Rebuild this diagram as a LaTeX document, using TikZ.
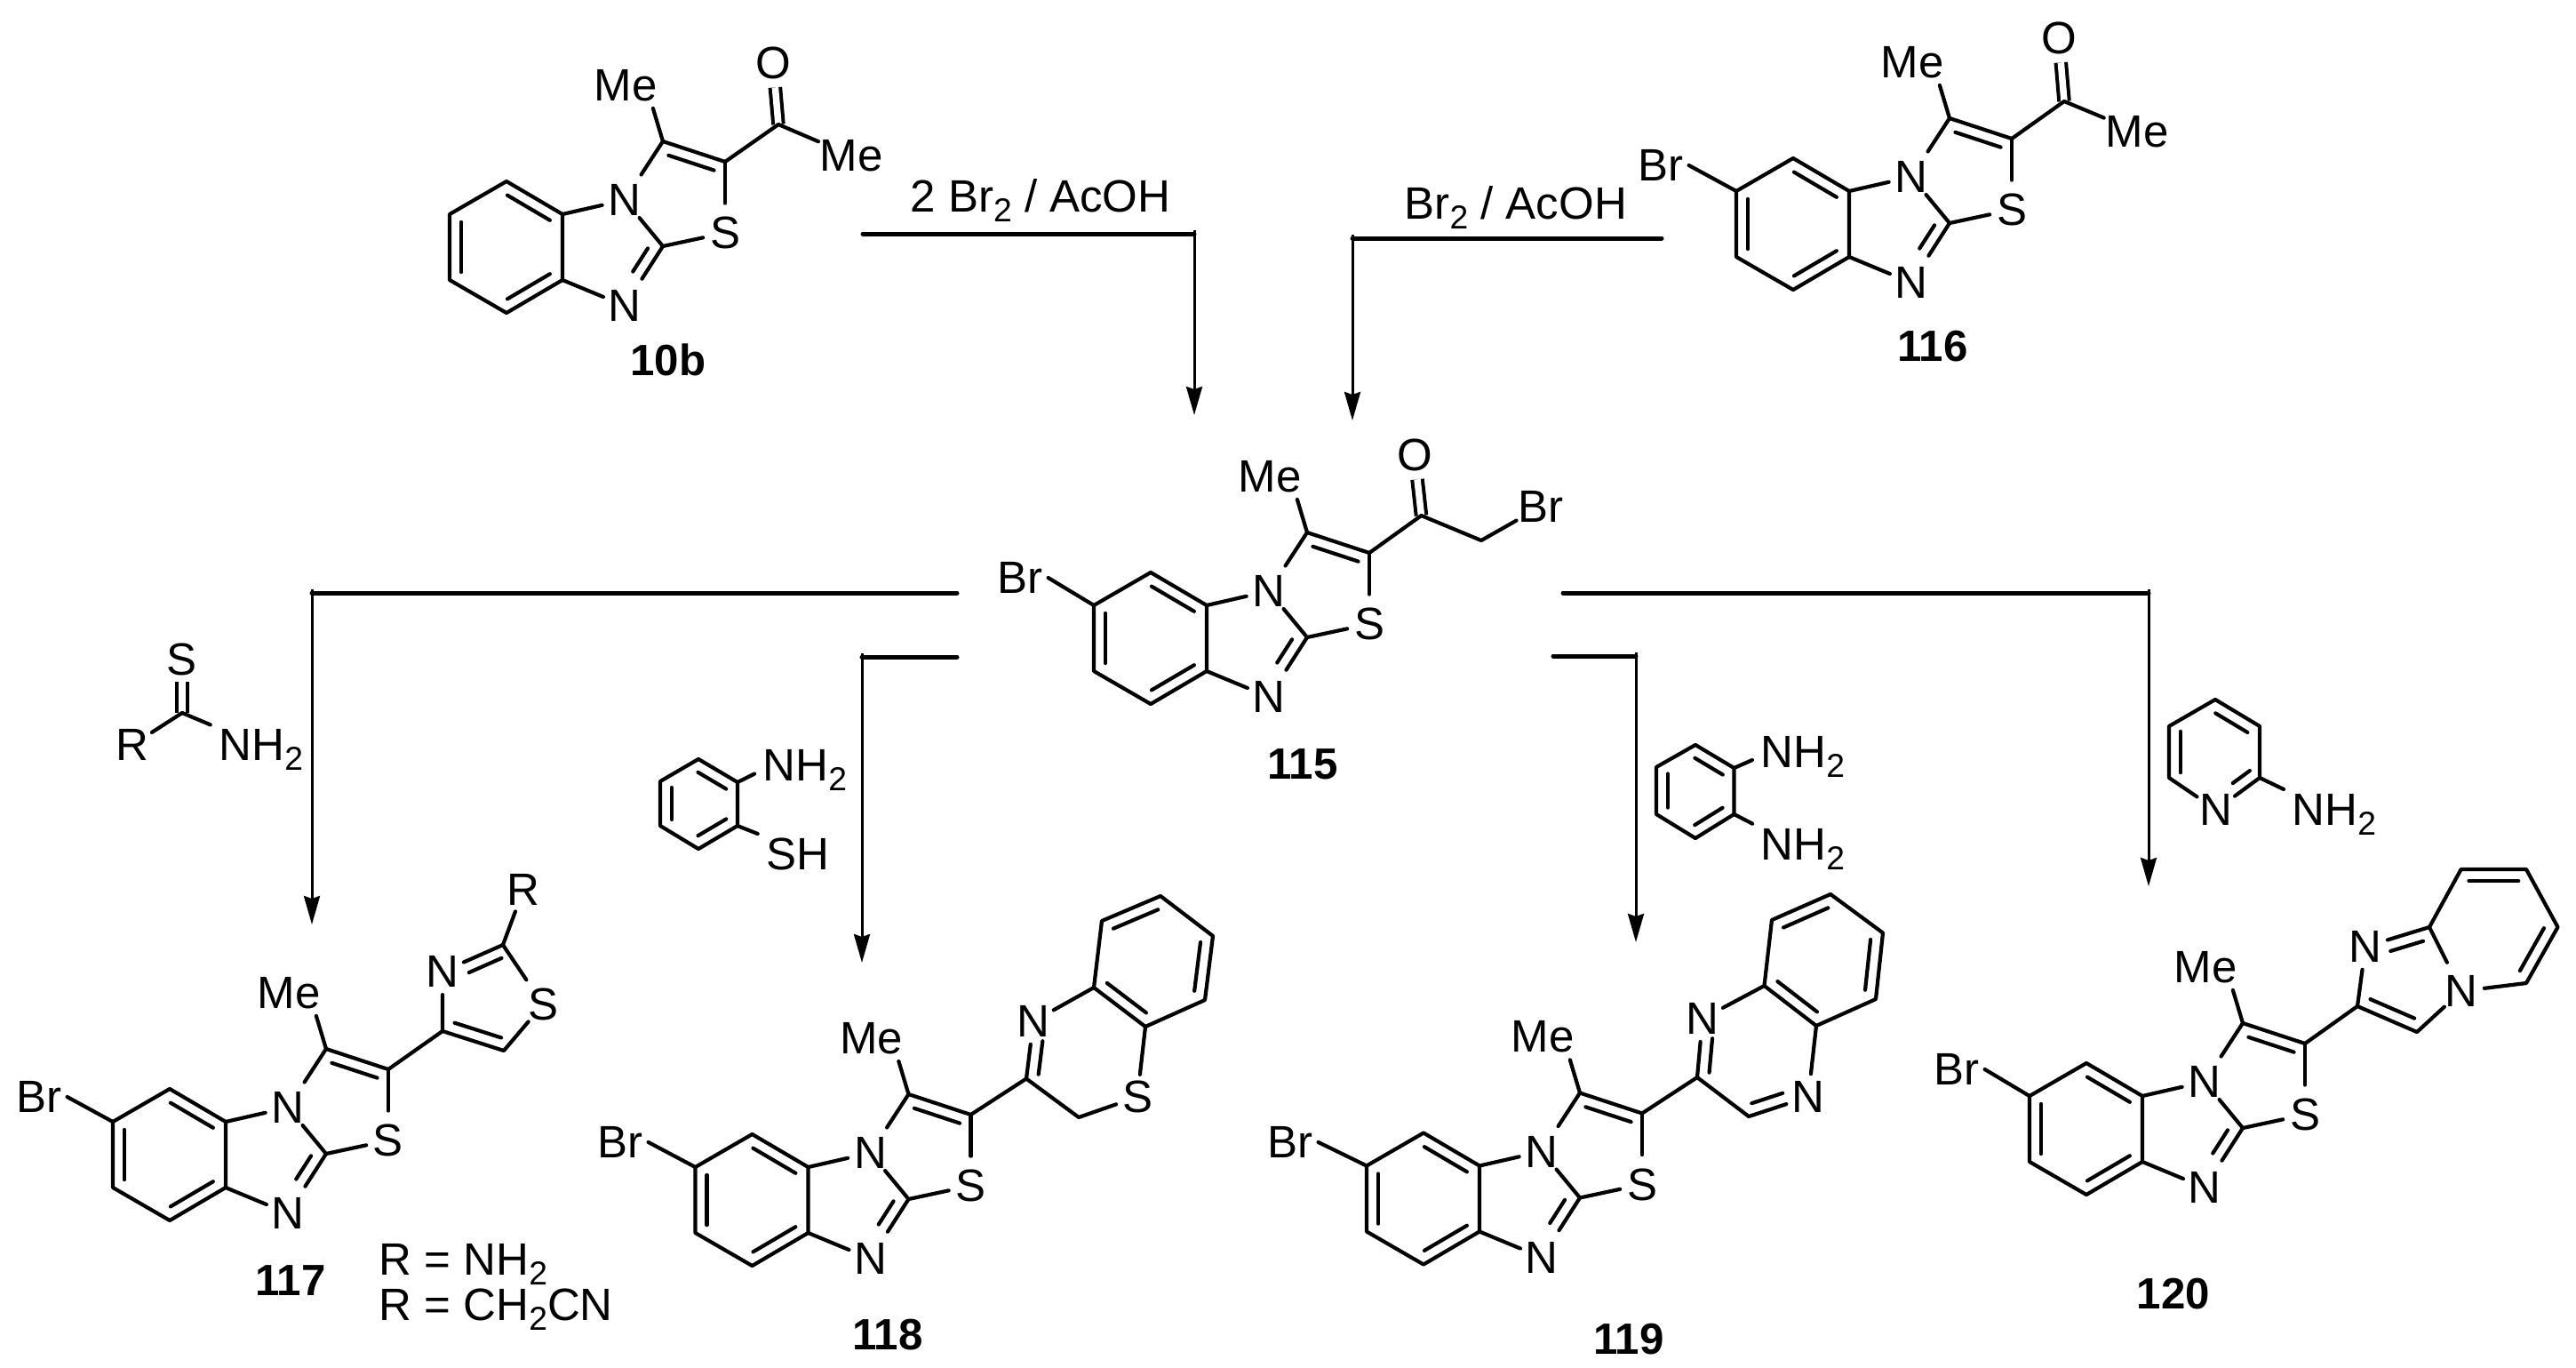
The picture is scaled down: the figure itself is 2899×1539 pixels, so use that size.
\documentclass[tikz,border=0pt]{standalone}
\usepackage{fontspec}
\setmainfont{Liberation Sans}
\usetikzlibrary{calc,arrows.meta}
\def\dbo{0.13cm}
\newcommand{\lowtwo}{\raisebox{-0.22em}{\fontsize{10.6}{12}\selectfont 2}}
\tikzset{
  bond/.style={draw=black, line width=0.42mm, line cap=round, line join=round},
  twobond/.style={draw=black, line width=0.4mm, double, double distance=0.75mm},
  lead/.style={draw=black, line width=0.5mm, line cap=round},
  drop/.style={draw=black, line width=0.3mm, shorten <=-0.4mm, -{Stealth[length=3.2mm,width=1.8mm,inset=0.3mm]}},
  atom/.style={circle, inner sep=0pt, font=\fontsize{14.5}{16}\selectfont},
  txt/.style={inner sep=0pt, anchor=base west, font=\fontsize{14.5}{16}\selectfont},
  cpd/.style={inner sep=0pt, font=\fontsize{14}{16}\selectfont\bfseries},
}
% inner line of a double bond, on the left of #1 -> #2
\newcommand{\inbond}[4]{\draw[bond] ($(#1)!#3!(#2)!\dbo!90:(#2)$) -- ($(#1)!#4!(#2)!\dbo!90:(#2)$);}
% the ring system every compound shares, placed by its upper fusion carbon
\newcommand{\bimcore}[3]{%
  \begin{scope}[shift={(#2,#3)},name prefix=#1-]
    \coordinate (ur) at (0,0);
    \coordinate (lr) at (0,74);
    \coordinate (bo) at (-63,111);
    \coordinate (ll) at (-127,74);
    \coordinate (ul) at (-127,0);
    \coordinate (to) at (-63,-37);
    \coordinate (C2) at (113,36);
    \coordinate (C3) at (113,-82);
    \coordinate (C4) at (183,-59);
    \node[atom] (N1) at (70,-16) {N};
    \node[atom] (N2) at (70,103) {N};
    \node[atom] (S) at (183,21) {S};
    \node[atom] (Me) at (71,-145) {Me};
    \draw[bond] (ur) -- (to) -- (ul) -- (ll) -- (bo) -- (lr) -- cycle;
    \inbond{ur}{to}{0.12}{0.88}
    \inbond{ul}{ll}{0.12}{0.88}
    \inbond{bo}{lr}{0.12}{0.88}
    \draw[bond] (ur) -- (N1);
    \draw[bond] (lr) -- (N2);
    \draw[bond] (N1) -- (C2) -- (S);
    \draw[bond,shorten >=1mm] (C2) -- (N2);
    \inbond{N2}{C2}{0.47}{0.86}
    \draw[bond,shorten >=0.8mm] (C3) -- (N1);
    \draw[bond] (C3) -- (C4);
    \inbond{C4}{C3}{0.12}{0.85}
    \draw[bond,shorten >=0.8mm] (C4) -- (S);
    \draw[bond] (C3) -- (Me.-40);
  \end{scope}}
\begin{document}
\begin{tikzpicture}[x=0.01cm,y=-0.01cm]
  \useasboundingbox (0,0) rectangle (2899,1539);

  % 10b
  \bimcore{m10}{633}{241}
  \coordinate (m10-CO) at (876,140);
  \node[atom] (m10-O) at (870,71) {O};
  \node[atom] (m10-Me2) at (958,175) {Me};
  \draw[twobond] (m10-CO) -- (m10-O);
  \draw[bond] (m10-C4) -- (m10-CO) -- (m10-Me2);
  \node[cpd] (m10-lab) at (752,405) {10b};

  % 116
  \bimcore{m116}{2081}{215}
  \node[atom] (m116-Br) at (1869,186) {Br};
  \draw[bond] (m116-ul) -- (m116-Br.east);
  \coordinate (m116-CO) at (2323,114);
  \node[atom] (m116-O) at (2317,43) {O};
  \node[atom] (m116-Me2) at (2405,148) {Me};
  \draw[twobond] (m116-CO) -- (m116-O);
  \draw[bond] (m116-C4) -- (m116-CO) -- (m116-Me2);
  \node[cpd] (m116-lab) at (2175,390) {116};

  % 115
  \bimcore{m115}{1358}{681}
  \node[atom] (m115-Br) at (1148,650) {Br};
  \draw[bond] (m115-ul) -- (m115-Br.east);
  \coordinate (m115-CO) at (1599.5,580);
  \coordinate (m115-CH) at (1667,608);
  \node[atom] (m115-O) at (1592,512) {O};
  \node[atom] (m115-Brb) at (1734,570) {Br};
  \draw[twobond] (m115-CO) -- (m115-O);
  \draw[bond] (m115-C4) -- (m115-CO) -- (m115-CH) -- (m115-Brb);
  \node[cpd] (m115-lab) at (1466,860) {115};

  % 117
  \bimcore{m117}{254}{1262}
  \node[atom] (m117-Br) at (44,1234) {Br};
  \draw[bond] (m117-ul) -- (m117-Br.east);
  \coordinate (m117-a4) at (498,1160);
  \coordinate (m117-a5) at (567,1182);
  \coordinate (m117-a2) at (566,1063);
  \node[atom] (m117-Sp) at (611,1130) {S};
  \node[atom] (m117-Np) at (498,1093) {N};
  \node[atom] (m117-R) at (589,1001) {R};
  \draw[bond] (m117-C4) -- (m117-a4) -- (m117-a5) -- (m117-Sp);
  \draw[bond] (m117-a4) -- (m117-Np) -- (m117-a2);
  \draw[bond,shorten >=0.8mm] (m117-a2) -- (m117-Sp);
  \draw[bond] (m117-a2) -- (m117-R);
  \inbond{m117-a4}{m117-a5}{0.14}{0.9}
  \inbond{m117-a2}{m117-Np}{0.1}{0.64}
  \node[cpd] (m117-lab) at (327,1441) {117};
  \node[txt] (m117-ra) at (426,1434) {R = NH\lowtwo};
  \node[txt] (m117-rb) at (426,1485) {R = CH\lowtwo CN};

  % 118
  \bimcore{m118}{909.5}{1313}
  \node[atom] (m118-Br) at (698,1285) {Br};
  \draw[bond] (m118-ul) -- (m118-Br.east);
  \coordinate (m118-cp) at (1155,1213.5);
  \coordinate (m118-ch) at (1214,1257);
  \coordinate (m118-c8) at (1289,1155);
  \coordinate (m118-c4) at (1231,1111);
  \coordinate (m118-b1) at (1240,1036);
  \coordinate (m118-b2) at (1306,1008);
  \coordinate (m118-b3) at (1365,1053);
  \coordinate (m118-b4) at (1356,1125);
  \node[atom] (m118-Np) at (1163,1149) {N};
  \node[atom] (m118-Sp) at (1280,1234) {S};
  \draw[bond] (m118-C4) -- (m118-cp) -- (m118-ch) -- (m118-Sp) -- (m118-c8);
  \draw[bond] (m118-cp) -- (m118-Np) -- (m118-c4);
  \draw[bond] (m118-c4) -- (m118-b1) -- (m118-b2) -- (m118-b3) -- (m118-b4) -- (m118-c8) -- cycle;
  \inbond{m118-Np}{m118-cp}{0.32}{0.9}
  \inbond{m118-c4}{m118-c8}{0.12}{0.88}
  \inbond{m118-b2}{m118-b1}{0.12}{0.88}
  \inbond{m118-b4}{m118-b3}{0.12}{0.88}
  \node[cpd] (m118-lab) at (999,1502) {118};

  % 119
  \bimcore{m119}{1665}{1311.5}
  \node[atom] (m119-Br) at (1452,1285) {Br};
  \draw[bond] (m119-ul) -- (m119-Br.east);
  \coordinate (m119-cp) at (1910,1212);
  \coordinate (m119-c3) at (1968,1256);
  \coordinate (m119-c8) at (2044,1154);
  \coordinate (m119-c4) at (1985.5,1109);
  \coordinate (m119-b1) at (1994,1035);
  \coordinate (m119-b2) at (2060,1006);
  \coordinate (m119-b3) at (2119,1049.5);
  \coordinate (m119-b4) at (2111,1124);
  \node[atom] (m119-Np) at (1916,1146) {N};
  \node[atom] (m119-Nq) at (2035,1234) {N};
  \draw[bond] (m119-C4) -- (m119-cp) -- (m119-c3) -- (m119-Nq) -- (m119-c8);
  \draw[bond] (m119-cp) -- (m119-Np) -- (m119-c4);
  \draw[bond] (m119-c4) -- (m119-b1) -- (m119-b2) -- (m119-b3) -- (m119-b4) -- (m119-c8) -- cycle;
  \inbond{m119-Np}{m119-cp}{0.32}{0.9}
  \inbond{m119-c3}{m119-Nq}{0.11}{0.63}
  \inbond{m119-c4}{m119-c8}{0.12}{0.88}
  \inbond{m119-b2}{m119-b1}{0.12}{0.88}
  \inbond{m119-b4}{m119-b3}{0.12}{0.88}
  \node[cpd] (m119-lab) at (1833,1507) {119};

  % 120
  \bimcore{m120}{2411}{1233}
  \node[atom] (m120-Br) at (2202,1203) {Br};
  \draw[bond] (m120-ul) -- (m120-Br.east);
  \coordinate (m120-cp) at (2653,1132);
  \coordinate (m120-c3) at (2720,1161);
  \coordinate (m120-c8) at (2734,1043);
  \coordinate (m120-p1) at (2769.6,978);
  \coordinate (m120-p2) at (2843,978);
  \coordinate (m120-p3) at (2878.5,1043);
  \coordinate (m120-p4) at (2843,1106);
  \node[atom] (m120-Np) at (2662,1065) {N};
  \node[atom] (m120-Nq) at (2770,1115) {N};
  \draw[bond] (m120-C4) -- (m120-cp) -- (m120-c3) -- (m120-Nq) -- (m120-p4) -- (m120-p3) -- (m120-p2) -- (m120-p1) -- (m120-c8) -- (m120-Np) -- (m120-cp);
  \draw[bond,shorten >=1mm] (m120-c8) -- (m120-Nq);
  \inbond{m120-cp}{m120-c3}{0.14}{0.88}
  \inbond{m120-c8}{m120-Np}{0.15}{0.66}
  \inbond{m120-p2}{m120-p1}{0.12}{0.88}
  \inbond{m120-p4}{m120-p3}{0.12}{0.88}
  \node[cpd] (m120-lab) at (2446,1456) {120};

  % reagents over the arrows
  \coordinate (th-C) at (205,802);
  \node[atom] (th-S) at (205,742) {S};
  \node[atom] (th-R) at (149,838) {R};
  \node[txt] (th-N) at (246,855) {NH\lowtwo};
  \draw[twobond] (th-C) -- (th-S);
  \draw[bond] (th-C) -- (th-R);
  \draw[bond,shorten >=1mm] (th-C) -- (th-N.north west);

  \coordinate (at-1) at (786,854);
  \coordinate (at-2) at (830,880);
  \coordinate (at-3) at (830,929);
  \coordinate (at-4) at (786,955);
  \coordinate (at-5) at (743,929);
  \coordinate (at-6) at (743,879);
  \draw[bond] (at-1) -- (at-2) -- (at-3) -- (at-4) -- (at-5) -- (at-6) -- cycle;
  \inbond{at-2}{at-1}{0.14}{0.86}
  \inbond{at-6}{at-5}{0.14}{0.86}
  \inbond{at-4}{at-3}{0.14}{0.86}
  \node[txt] (at-N) at (858,878) {NH\lowtwo};
  \node[txt] (at-S) at (862,978) {SH};
  \draw[bond,shorten >=1mm] (at-2) -- (at-N.west);
  \draw[bond,shorten >=1mm] (at-3) -- (at-S.north west);

  \coordinate (da-1) at (1908,838);
  \coordinate (da-2) at (1951.5,864);
  \coordinate (da-3) at (1951.5,916);
  \coordinate (da-4) at (1908,943);
  \coordinate (da-5) at (1864,916);
  \coordinate (da-6) at (1864,863);
  \draw[bond] (da-1) -- (da-2) -- (da-3) -- (da-4) -- (da-5) -- (da-6) -- cycle;
  \inbond{da-2}{da-1}{0.14}{0.86}
  \inbond{da-6}{da-5}{0.14}{0.86}
  \inbond{da-4}{da-3}{0.14}{0.86}
  \node[txt] (da-Na) at (1981,863) {NH\lowtwo};
  \node[txt] (da-Nb) at (1981,967) {NH\lowtwo};
  \draw[bond,shorten >=1mm] (da-2) -- (da-Na.west);
  \draw[bond,shorten >=1mm] (da-3) -- (da-Nb.north west);

  \coordinate (ap-1) at (2493,787);
  \coordinate (ap-2) at (2543,817);
  \coordinate (ap-3) at (2543,875);
  \coordinate (ap-5) at (2441,875);
  \coordinate (ap-6) at (2441,817);
  \node[atom] (ap-N) at (2494,911) {N};
  \node[txt] (ap-Na) at (2579,928) {NH\lowtwo};
  \draw[bond] (ap-N) -- (ap-5) -- (ap-6) -- (ap-1) -- (ap-2) -- (ap-3) -- (ap-N);
  \inbond{ap-2}{ap-1}{0.14}{0.86}
  \inbond{ap-6}{ap-5}{0.1}{0.9}
  \inbond{ap-N}{ap-3}{0.54}{0.93}
  \draw[bond,shorten >=1mm] (ap-3) -- (ap-Na.north west);

  % arrows and what is written on them
  \coordinate (ar1-s) at (971,263);
  \coordinate (ar1-c) at (1344,263);
  \coordinate (ar1-e) at (1344,467);
  \draw[lead] (ar1-s) -- (ar1-c);
  \draw[drop] (ar1-c) -- (ar1-e);
  \node[txt] (ar1-t) at (1024,238) {2 Br\lowtwo{} / AcOH};

  \coordinate (ar2-s) at (1870,268);
  \coordinate (ar2-c) at (1522,268);
  \coordinate (ar2-e) at (1522,473);
  \draw[lead] (ar2-s) -- (ar2-c);
  \draw[drop] (ar2-c) -- (ar2-e);
  \node[txt] (ar2-t) at (1580,246) {Br\lowtwo{} / AcOH};

  \coordinate (ar3-s) at (1077,667);
  \coordinate (ar3-c) at (351,667);
  \coordinate (ar3-e) at (351,1040);
  \draw[lead] (ar3-s) -- (ar3-c);
  \draw[drop] (ar3-c) -- (ar3-e);

  \coordinate (ar4-s) at (1077,739);
  \coordinate (ar4-c) at (970,739);
  \coordinate (ar4-e) at (970,1083);
  \draw[lead] (ar4-s) -- (ar4-c);
  \draw[drop] (ar4-c) -- (ar4-e);

  \coordinate (ar5-s) at (1748,738);
  \coordinate (ar5-c) at (1841,738);
  \coordinate (ar5-e) at (1841,1060);
  \draw[lead] (ar5-s) -- (ar5-c);
  \draw[drop] (ar5-c) -- (ar5-e);

  \coordinate (ar6-s) at (1759,667);
  \coordinate (ar6-c) at (2418,667);
  \coordinate (ar6-e) at (2418,997);
  \draw[lead] (ar6-s) -- (ar6-c);
  \draw[drop] (ar6-c) -- (ar6-e);
\end{tikzpicture}
\end{document}
